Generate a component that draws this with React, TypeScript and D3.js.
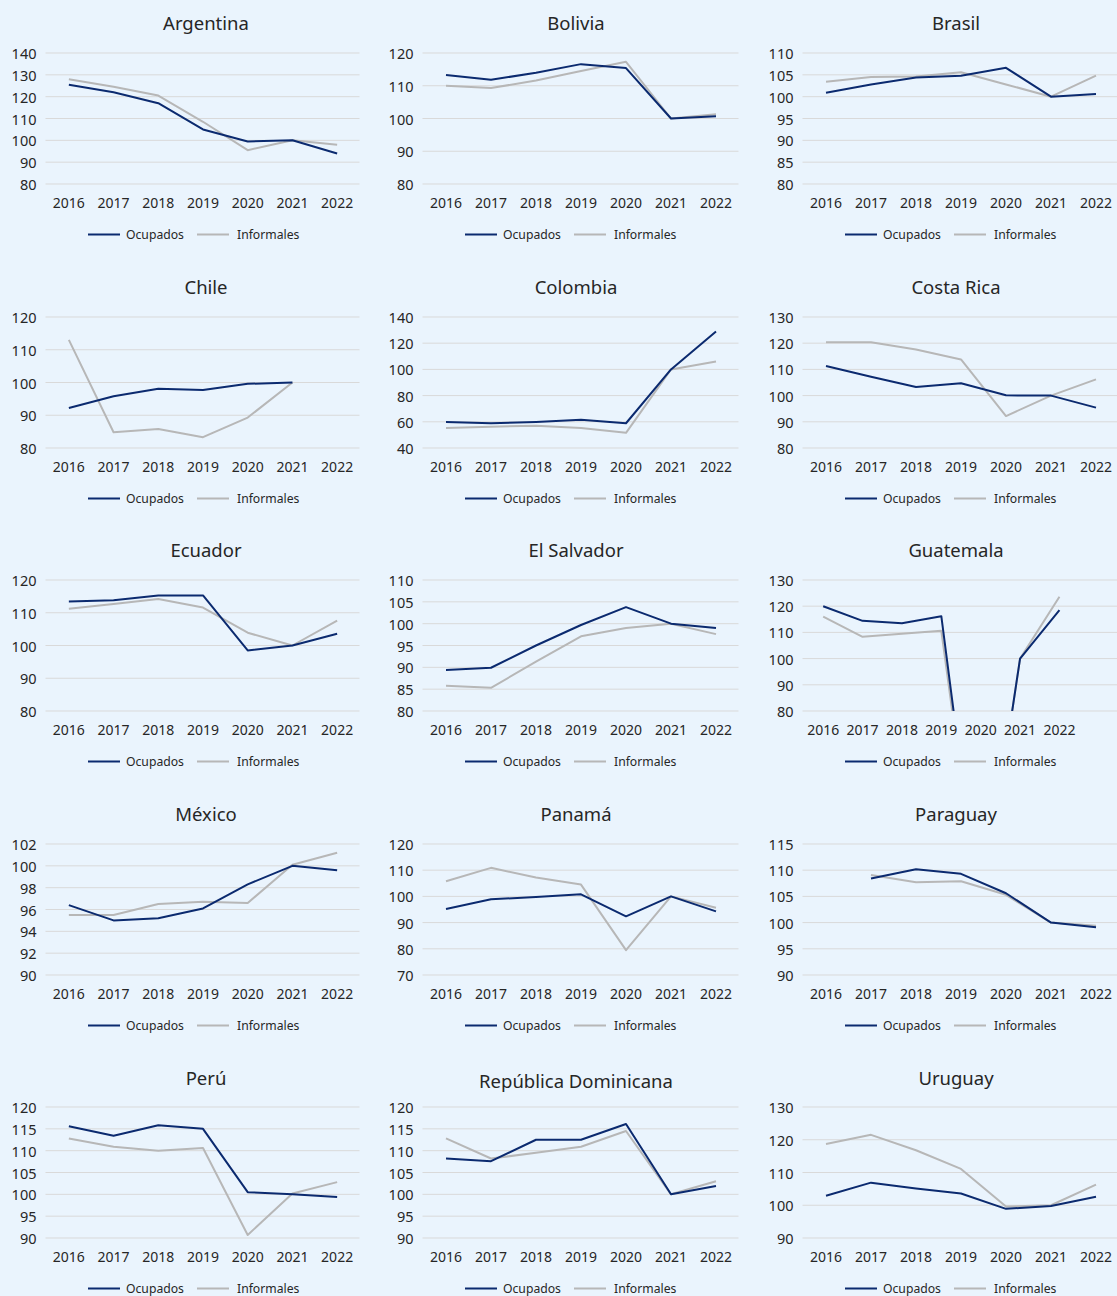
import React from "react";
import * as d3 from "d3";

const countries = [
  "Argentina", "Bolivia", "Brasil",
  "Chile", "Colombia", "Costa Rica",
  "Ecuador", "El Salvador", "Guatemala",
  "México", "Panamá", "Paraguay",
  "Perú", "República Dominicana", "Uruguay",
];

const years = ["2016", "2017", "2018", "2019", "2020", "2021", "2022"];
const yearsGuatemala = ["2016", "2017", "2018", "2019", "2020", "2021", "2022", ""];

type V = number | null;

const ocupados: V[][] = [
  [125.5, 122, 117, 105, 99.5, 100, 94],
  [113.3, 111.8, 114, 116.6, 115.4, 100, 100.7],
  [100.9, 102.8, 104.4, 104.8, 106.6, 100, 100.6],
  [92.2, 95.8, 98.1, 97.7, 99.6, 100, null],
  [59.9, 58.9, 59.9, 61.6, 58.9, 100, 129],
  [111.3, 107.2, 103.3, 104.7, 100.1, 100, 95.4],
  [113.4, 113.8, 115.3, 115.3, 98.5, 100, 103.6],
  [89.4, 89.9, 95, 99.7, 103.8, 100, 99],
  [120, 114.4, 113.5, 116.2, 0, 100, 118.5, null],
  [96.4, 95, 95.2, 96.1, 98.3, 100, 99.6],
  [95.2, 98.9, 99.8, 100.8, 92.4, 100, 94.3],
  [null, 108.4, 110.2, 109.3, 105.6, 100, 99.1],
  [115.6, 113.4, 115.8, 115, 100.5, 100, 99.4],
  [108.2, 107.6, 112.5, 112.5, 116.1, 100, 101.9],
  [102.9, 106.9, 105.1, 103.6, 98.9, 99.8, 102.6],
];

const informales: V[][] = [
  [128, 124.5, 120.5, 108.5, 95.5, 100, 98],
  [110, 109.3, 111.6, 114.5, 117.3, 100, 101.3],
  [103.4, 104.5, 104.6, 105.6, 102.8, 100, 104.8],
  [113, 84.8, 85.8, 83.3, 89.3, 100, null],
  [55.3, 56.3, 57, 55.3, 51.6, 100, 106],
  [120.4, 120.4, 117.6, 113.8, 92.2, 100, 106.2],
  [111.2, 112.7, 114.2, 111.6, 103.9, 100, 107.6],
  [85.8, 85.3, 91.3, 97.1, 99, 100, 97.6],
  [116, 108.3, 109.5, 110.6, 0, 100, 123.6, null],
  [95.5, 95.5, 96.5, 96.7, 96.6, 100.1, 101.2],
  [105.8, 110.9, 107.2, 104.5, 79.5, 100, 95.7],
  [null, 109.1, 107.7, 107.9, 105.3, 100, 99.4],
  [112.8, 110.9, 110, 110.6, 90.7, 100.2, 102.8],
  [112.8, 108.2, 109.5, 110.9, 114.5, 100, 103],
  [118.7, 121.5, 116.8, 111.1, 99.6, 100, 106.3],
];

const yMin = [80, 80, 80, 80, 40, 80, 80, 80, 80, 90, 70, 90, 90, 90, 90];
const yMax = [140, 120, 110, 120, 140, 130, 120, 110, 130, 102, 120, 115, 120, 120, 130];
const yStep = [10, 10, 5, 10, 20, 10, 10, 5, 10, 2, 10, 5, 5, 5, 10];

const seriesNames = ["Ocupados", "Informales"];

// layout
const W = 1117;
const H = 1296;
const colLeft = [46.5, 423.5, 803.5];
const colRight = [359.5, 738.5, 1118.5];
const colTitleX = [206, 576, 956];
const colLegendX = [194, 571, 951];
const rowTop = [53, 317, 580, 844, 1107];
const rowBottom = [184, 448, 711, 975, 1238];
const rowTitleY = [22, 286, 549, 813, 1077];

const NAVY = "#0B2A6F";
const GRAY = "#B7B7B7";
const GRID = "#D9D9D9";
const TEXT = "#262626";
const BG = "#EAF4FD";
const FONT = "'Noto Sans', 'Open Sans', sans-serif";

function Panel({ i }: { i: number }) {
  const col = i % 3;
  const row = Math.floor(i / 3);
  const cats = countries[i] === "Guatemala" ? yearsGuatemala : years;
  const x = d3.scaleBand<string>().domain(cats.map((c, k) => String(k))).range([colLeft[col], colRight[col]]);
  const y = d3.scaleLinear().domain([yMin[i], yMax[i]]).range([rowBottom[row], rowTop[row]]);
  const ticks = d3.range(yMin[i], yMax[i] + yStep[i] / 2, yStep[i]);
  const cx = (k: number) => (x(String(k)) as number) + x.bandwidth() / 2;
  const line = d3
    .line<V>()
    .defined((d) => d != null)
    .x((_, k) => cx(k))
    .y((d) => y(d as number));
  const clipId = `clip-${i}`;
  const titleY = countries[i] === "República Dominicana" ? rowTitleY[row] + 3 : rowTitleY[row];
  const legendY = rowBottom[row] + 50.5;
  const lx = colLegendX[col];
  return (
    <g>
      <defs>
        <clipPath id={clipId}>
          <rect x={colLeft[col] - 5} y={rowTop[row] - 20} width={colRight[col] - colLeft[col] + 10} height={rowBottom[row] - rowTop[row] + 20} />
        </clipPath>
      </defs>
      <text x={colTitleX[col]} y={titleY} textAnchor="middle" dominantBaseline="central" fontSize={18.5} fill={TEXT} fontFamily={FONT}>
        {countries[i]}
      </text>
      {ticks.map((t) => (
        <g key={t}>
          <line x1={colLeft[col] - 1} x2={colRight[col]} y1={y(t)} y2={y(t)} stroke={GRID} strokeWidth={1} />
          <text x={colLeft[col] - 10} y={y(t)} textAnchor="end" dominantBaseline="central" fontSize={14.5} fill={TEXT} fontFamily={FONT}>
            {t}
          </text>
        </g>
      ))}
      {cats.map((c, k) => (
        <text key={k} x={cx(k)} y={rowBottom[row] + 18.5} textAnchor="middle" dominantBaseline="central" fontSize={14} fill={TEXT} fontFamily={FONT}>
          {c}
        </text>
      ))}
      <g clipPath={`url(#${clipId})`}>
        <path d={line(informales[i]) || ""} fill="none" stroke={GRAY} strokeWidth={2} strokeLinejoin="round" />
        <path d={line(ocupados[i]) || ""} fill="none" stroke={NAVY} strokeWidth={2} strokeLinejoin="round" />
      </g>
      <g fontFamily={FONT} fontSize={12.2} fill={TEXT}>
        <line x1={lx - 106} x2={lx - 74} y1={legendY} y2={legendY} stroke={NAVY} strokeWidth={2} />
        <text x={lx - 68} y={legendY} dominantBaseline="central">{seriesNames[0]}</text>
        <line x1={lx + 3} x2={lx + 35} y1={legendY} y2={legendY} stroke={GRAY} strokeWidth={2} />
        <text x={lx + 43} y={legendY} dominantBaseline="central">{seriesNames[1]}</text>
      </g>
    </g>
  );
}

export default function App() {
  return (
    <svg width={W} height={H} style={{ position: "absolute", left: 0, top: 0, display: "block" }}>
      <rect x={0} y={0} width={W} height={H} fill={BG} />
      {countries.map((_, i) => (
        <Panel key={i} i={i} />
      ))}
    </svg>
  );
}
